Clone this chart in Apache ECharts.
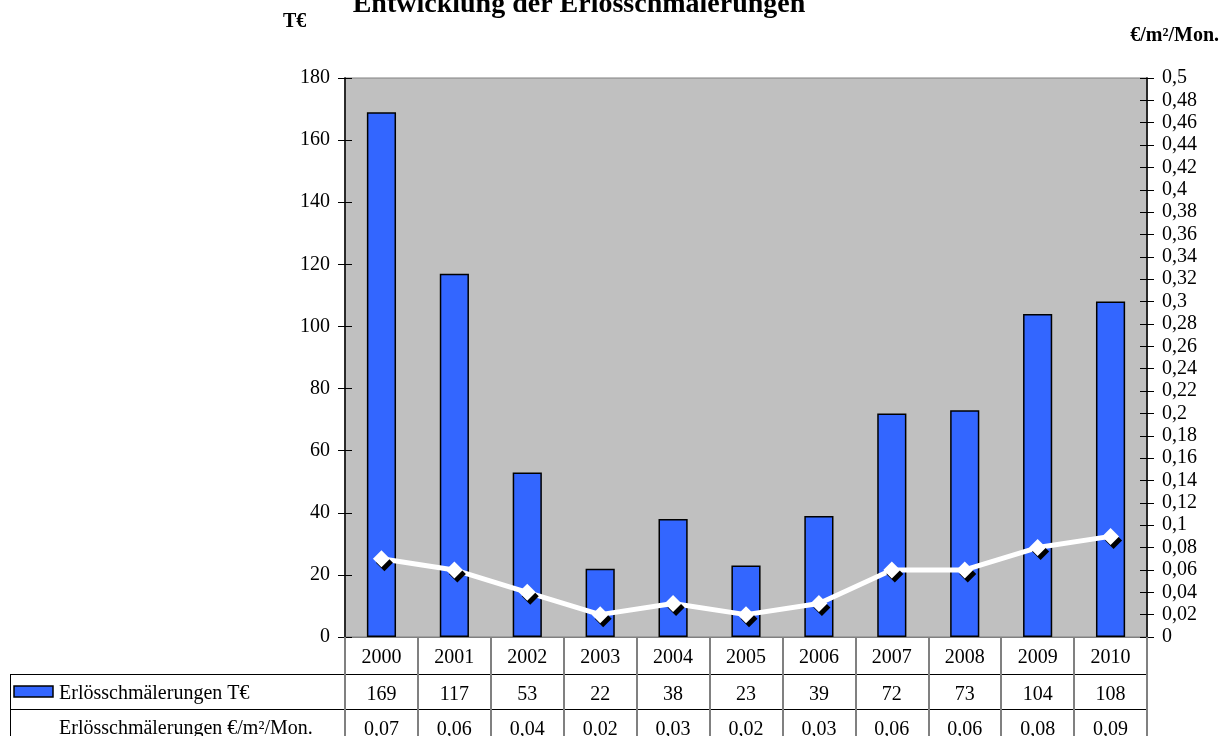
<!DOCTYPE html>
<html>
<head>
<meta charset="utf-8">
<style>
  html, body { margin: 0; padding: 0; background: #ffffff; }
  #chart { width: 1221px; height: 736px; }
</style>
<script src="https://cdn.jsdelivr.net/npm/echarts@6/dist/echarts.min.js"></script>
</head>
<body>
<div id="chart"></div>
<script>
// Jahre und Werte
const years = ['2000', '2001', '2002', '2003', '2004', '2005', '2006', '2007', '2008', '2009', '2010'];
const erloesTEur = [169, 117, 53, 22, 38, 23, 39, 72, 73, 104, 108];
const erloesProQm = [0.07, 0.06, 0.04, 0.02, 0.03, 0.02, 0.03, 0.06, 0.06, 0.08, 0.09];
const seriesNames = ['Erlösschmälerungen T€', 'Erlösschmälerungen €/m²/Mon.'];

const FONT = '"Liberation Serif", "Times New Roman", serif';
const fmtDe = (v) => String(v).replace('.', ',');
const fmtDe2 = (v) => (Math.round(v * 100) / 100).toFixed(2).replace(/0+$/, '').replace(/\.$/, '').replace('.', ',');

const chart = echarts.init(document.getElementById('chart'), null, { renderer: 'canvas' });

const GRID_LEFT = 345, GRID_RIGHT = 74, GRID_TOP = 78, GRID_BOTTOM = 99;
const ROW1 = 37, ROW2 = 72;

// Kategorieachsen unterhalb des Diagramms bilden die Datentabelle
const tableAxis = (offset, tickLen, lineColor, labelFn) => ({
  type: 'category',
  data: years,
  position: 'bottom',
  offset: offset,
  gridIndex: 0,
  axisLine: { show: true, onZero: false, lineStyle: { color: lineColor, width: 1 } },
  axisTick: { show: true, interval: 0, length: tickLen, lineStyle: { color: '#808080', width: 2 } },
  axisLabel: {
    interval: 0, margin: 11,
    color: '#000', fontFamily: FONT, fontSize: 20,
    formatter: labelFn
  },
  splitLine: { show: false }
});

const valueAxis = (pos, min, max, interval, ticksInside, showLabels, fmt) => ({
  type: 'value',
  position: pos,
  min: min, max: max, interval: interval,
  gridIndex: 0,
  axisLine: { show: true, lineStyle: { color: '#222', width: 1.5 } },
  axisTick: { show: true, inside: ticksInside, length: 7, lineStyle: { color: '#000', width: 1 } },
  axisLabel: {
    show: showLabels, margin: 15,
    color: '#000', fontFamily: FONT, fontSize: 20,
    formatter: fmt
  },
  splitLine: { show: false }
});

const option = {
  animation: false,
  backgroundColor: '#ffffff',
  grid: {
    left: GRID_LEFT, right: GRID_RIGHT, top: GRID_TOP, bottom: GRID_BOTTOM,
    outerBoundsMode: 'none', containLabel: false,
    show: true, backgroundColor: '#c0c0c0', borderColor: '#808080', borderWidth: 1
  },
  xAxis: [
    tableAxis(0, ROW1, '#808080', (v, i) => years[i]),
    tableAxis(ROW1, ROW2 - ROW1, '#000', (v, i) => String(erloesTEur[i])),
    tableAxis(ROW2, 40, '#000', (v, i) => fmtDe(erloesProQm[i]))
  ],
  yAxis: [
    valueAxis('left', 0, 180, 20, false, true, (v) => String(v)),
    valueAxis('right', 0, 0.5, 0.02, false, true, fmtDe2),
    valueAxis('left', 0, 180, 20, true, false),
    valueAxis('right', 0, 0.5, 0.02, true, false)
  ],
  series: [
    {
      name: seriesNames[0],
      type: 'bar',
      xAxisIndex: 0, yAxisIndex: 0,
      data: erloesTEur,
      barWidth: '40%',
      itemStyle: { color: '#3366ff', borderColor: '#000', borderWidth: 1.5 },
      z: 2
    },
    {
      name: seriesNames[1],
      type: 'line',
      xAxisIndex: 0, yAxisIndex: 1,
      data: erloesProQm,
      symbol: 'diamond',
      symbolSize: 17,
      lineStyle: { color: '#ffffff', width: 5 },
      itemStyle: {
        color: '#ffffff', borderWidth: 0,
        shadowColor: '#000', shadowBlur: 0, shadowOffsetX: 3, shadowOffsetY: 4
      },
      z: 3
    }
  ],
  graphic: [
    {
      type: 'text',
      style: {
        text: 'Entwicklung der Erlösschmälerungen', x: 579, y: -9,
        fill: '#000', font: 'bold 28px ' + FONT, align: 'center', verticalAlign: 'top'
      }
    },
    {
      type: 'text',
      style: { text: 'T€', x: 283, y: 22, fill: '#000', font: 'bold 20px ' + FONT, align: 'left', verticalAlign: 'middle' }
    },
    {
      type: 'text',
      style: { text: '€/m²/Mon.', x: 1219, y: 36, fill: '#000', font: 'bold 20px ' + FONT, align: 'right', verticalAlign: 'middle' }
    },
    // Tabellenrahmen links (Legendenspalte)
    { type: 'line', shape: { x1: 10, y1: 674.5, x2: 345, y2: 674.5 }, style: { stroke: '#000', lineWidth: 1 } },
    { type: 'line', shape: { x1: 10, y1: 709.5, x2: 345, y2: 709.5 }, style: { stroke: '#000', lineWidth: 1 } },
    { type: 'line', shape: { x1: 10.5, y1: 674, x2: 10.5, y2: 736 }, style: { stroke: '#000', lineWidth: 1 } },
    {
      type: 'rect', shape: { x: 14, y: 686, width: 39, height: 11 },
      style: { fill: '#3366ff', stroke: '#000', lineWidth: 1.5 }
    },
    {
      type: 'text',
      style: { text: seriesNames[0], x: 59, y: 694, fill: '#000', font: '20px ' + FONT, align: 'left', verticalAlign: 'middle' }
    },
    {
      type: 'text',
      style: { text: seriesNames[1], x: 59, y: 729, fill: '#000', font: '20px ' + FONT, align: 'left', verticalAlign: 'middle' }
    }
  ]
};

chart.setOption(option);
</script>
</body>
</html>
